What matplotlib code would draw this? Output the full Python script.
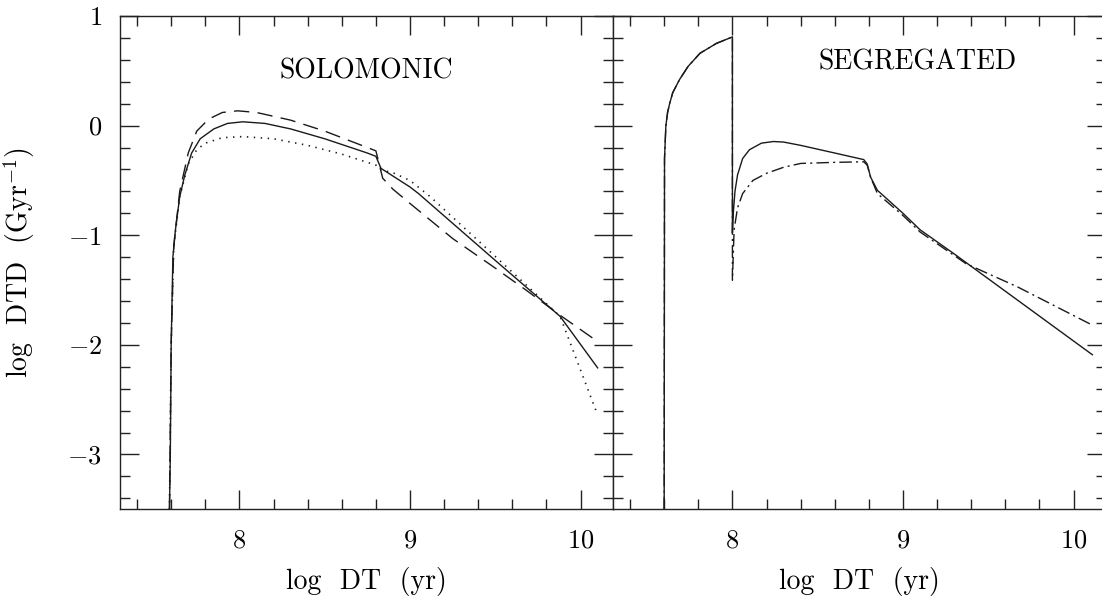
import numpy as np
import matplotlib
matplotlib.use('Agg')
import matplotlib.pyplot as plt
from matplotlib.ticker import MultipleLocator

plt.rcParams['font.family'] = ['cmr10', 'DejaVu Serif']
plt.rcParams['mathtext.fontset'] = 'cm'
plt.rcParams['axes.formatter.use_mathtext'] = True
plt.rcParams['lines.scale_dashes'] = False

# SOLOMONIC panel (log DT, log DTD)
sol_solid_x = [7.59, 7.595, 7.60, 7.61, 7.625, 7.65, 7.68, 7.72, 7.77, 7.85, 7.93, 8.02, 8.15,
               8.3, 8.5, 8.75, 8.80, 8.83, 9.0, 9.05, 9.5, 9.88, 10.10]
sol_solid_y = [-3.5, -3.0, -2.0, -1.2, -0.95, -0.65, -0.45, -0.25, -0.12, -0.03, 0.02, 0.035, 0.02,
               -0.03, -0.12, -0.25, -0.28, -0.39, -0.56, -0.62, -1.23, -1.74, -2.21]

sol_dash_x = [7.59, 7.60, 7.615, 7.65, 7.70, 7.75, 7.82, 7.90, 7.99, 8.1, 8.3, 8.5, 8.75,
              8.80, 8.84, 8.9, 9.0, 9.25, 9.5, 9.68, 9.88, 10.10]
sol_dash_y = [-3.5, -2.0, -1.1, -0.6, -0.25, -0.05, 0.06, 0.12, 0.135, 0.12, 0.05, -0.05, -0.20,
              -0.23, -0.48, -0.58, -0.71, -1.03, -1.30, -1.50, -1.73, -1.97]

sol_dot_x = [7.59, 7.60, 7.615, 7.65, 7.70, 7.75, 7.80, 7.90, 8.02, 8.2, 8.4, 8.6, 8.80,
             8.82, 8.9, 9.0, 9.12, 9.33, 9.63, 9.88, 10.10]
sol_dot_y = [-3.5, -2.0, -1.1, -0.65, -0.35, -0.22, -0.16, -0.11, -0.10, -0.12, -0.18, -0.26, -0.36,
             -0.40, -0.43, -0.50, -0.65, -0.95, -1.38, -1.74, -2.64]

# SEGREGATED panel
seg_solid_x = [7.600, 7.602, 7.61, 7.62, 7.632, 7.65, 7.69, 7.74, 7.81, 7.906, 7.994, 8.0,
               8.0, 8.005, 8.015, 8.03, 8.06, 8.1, 8.17, 8.24, 8.3, 8.4, 8.6, 8.77, 8.79,
               8.81, 8.85, 9.0, 9.1, 9.3, 10.11]
seg_solid_y = [-3.5, -0.3, 0.0, 0.12, 0.20, 0.30, 0.42, 0.54, 0.66, 0.75, 0.805, 0.81,
               -0.98, -0.8, -0.6, -0.45, -0.30, -0.22, -0.16, -0.145, -0.15, -0.18, -0.25, -0.31, -0.35,
               -0.47, -0.59, -0.80, -0.95, -1.17, -2.09]

seg_dashdot_x = [7.600, 7.602, 7.61, 7.62, 7.632, 7.65, 7.69, 7.74, 7.81, 7.906, 7.994, 8.0,
                 8.0, 8.01, 8.03, 8.06, 8.12, 8.2, 8.3, 8.4, 8.6, 8.77, 8.79,
                 8.81, 8.85, 9.0, 9.1, 9.37, 9.67, 10.11]
seg_dashdot_y = [-3.5, -0.3, 0.0, 0.12, 0.20, 0.30, 0.42, 0.54, 0.66, 0.75, 0.805, 0.81,
                 -1.41, -0.95, -0.75, -0.62, -0.50, -0.435, -0.38, -0.345, -0.335, -0.33, -0.36,
                 -0.47, -0.62, -0.82, -0.97, -1.26, -1.47, -1.82]

W, H = 1102, 600
fig = plt.figure(figsize=(W / 100, H / 100), dpi=100)
ax1 = fig.add_axes([120 / W, (H - 509.3) / H, 493 / W, 493.3 / H])
ax2 = fig.add_axes([613 / W, (H - 509.3) / H, 493 / W, 493.3 / H])

lc = '#1a1a1a'
ax1.plot(sol_solid_x, sol_solid_y, color=lc, lw=1.0)
ax1.plot(sol_dash_x, sol_dash_y, color=lc, lw=1.0, ls=(0, (11, 6)))
ax1.plot(sol_dot_x, sol_dot_y, color=lc, lw=1.2, ls=(0, (1, 4)))

ax2.plot(seg_dashdot_x, seg_dashdot_y, color=lc, lw=1.0, ls=(0, (9, 3, 1.5, 3)))
ax2.plot(seg_solid_x, seg_solid_y, color=lc, lw=1.0)

for ax in (ax1, ax2):
    ax.set_xlim(7.3, 10.19)
    ax.set_ylim(-3.5, 1)
    ax.xaxis.set_major_locator(MultipleLocator(1))
    ax.xaxis.set_minor_locator(MultipleLocator(0.2))
    ax.yaxis.set_major_locator(MultipleLocator(1))
    ax.yaxis.set_minor_locator(MultipleLocator(0.2))
    ax.tick_params(which='both', direction='in', top=True, right=True, width=1.0, color='#222')
    ax.tick_params(which='major', length=14)
    ax.tick_params(which='minor', length=7)
    ax.tick_params(axis='x', pad=14, labelsize=19)
    ax.tick_params(axis='y', pad=13, labelsize=19)
    for s in ax.spines.values():
        s.set_linewidth(1.0)
        s.set_color('#222')
    ax.set_xlabel('log  DT  (yr)', fontsize=20)
    ax.xaxis.set_label_coords(0.5, -0.117)

ax2.tick_params(labelleft=False)
ax1.set_ylabel('log  DTD  (Gyr$^{-1}$)', fontsize=20)
ax1.yaxis.set_label_coords(-0.168, 0.5)

ax1.text(0.5, 0.887, 'SOLOMONIC', transform=ax1.transAxes, ha='center', va='center', fontsize=20)
ax2.text(0.618, 0.906, 'SEGREGATED', transform=ax2.transAxes, ha='center', va='center', fontsize=20)

fig.savefig('out.png', dpi=100, facecolor='white')
